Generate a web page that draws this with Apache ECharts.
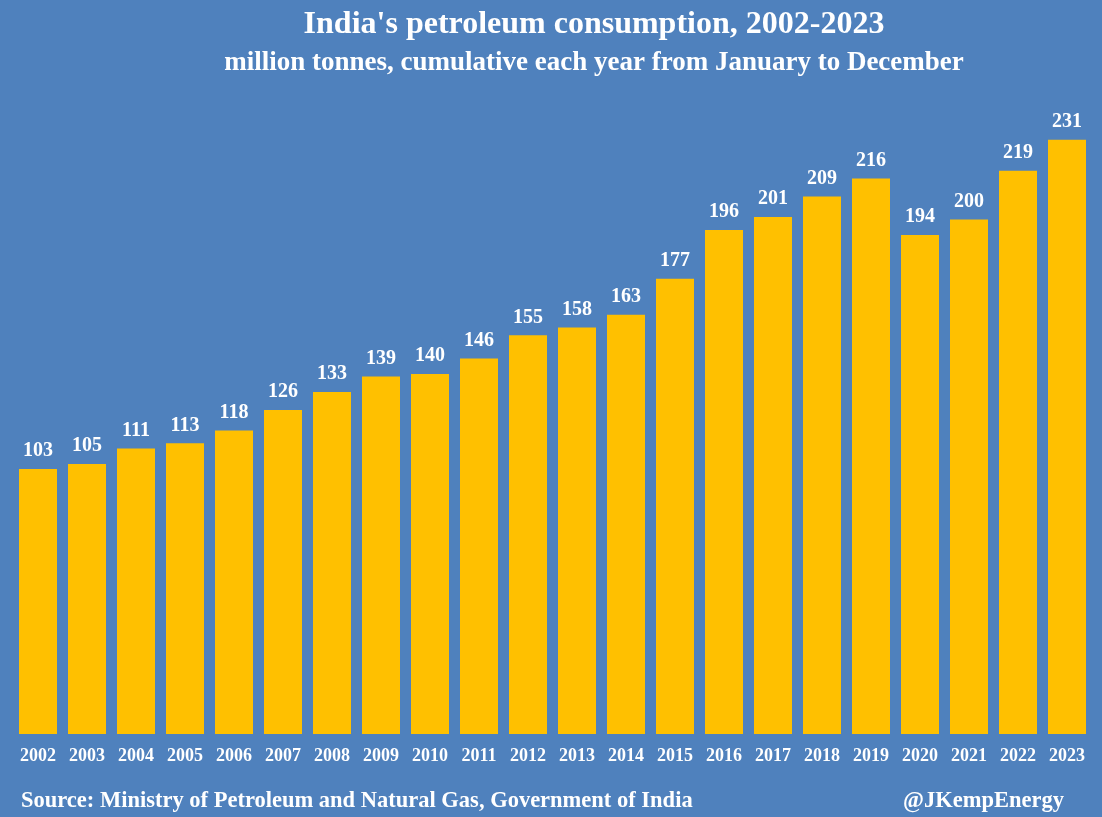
<!DOCTYPE html>
<html><head><meta charset="utf-8">
<script src="https://cdn.jsdelivr.net/npm/echarts@6/dist/echarts.min.js"></script>
<style>html,body{margin:0;padding:0;background:#4F81BD;}#c{width:1102px;height:817px;}</style>
</head><body><div id="c"></div>
<script>
const years = ['2002','2003','2004','2005','2006','2007','2008','2009','2010','2011','2012','2013','2014','2015','2016','2017','2018','2019','2020','2021','2022','2023'];
const consumption = [103,105,111,113,118,126,133,139,140,146,155,158,163,177,196,201,209,216,194,200,219,231];
const titleText = "India's petroleum consumption, 2002-2023";
const subtitleText = 'million tonnes, cumulative each year from January to December';
const sourceText = 'Source: Ministry of Petroleum and Natural Gas, Government of India';
const handleText = '@JKempEnergy';

const chart = echarts.init(document.getElementById('c'), null, {renderer:'canvas'});
const serif = '"Liberation Serif", "DejaVu Serif", serif';
chart.setOption({
  backgroundColor: '#4F81BD',
  animation: false,
  title: [
    {text: titleText, left: 589, top: 4, textAlign: 'center',
     textStyle: {color: '#fff', fontFamily: serif, fontWeight: 'bold', fontSize: 32}},
    {text: subtitleText, left: 589, top: 45, textAlign: 'center',
     textStyle: {color: '#fff', fontFamily: serif, fontWeight: 'bold', fontSize: 27}},
    {text: sourceText, left: 16, top: 785,
     textStyle: {color: '#fff', fontFamily: serif, fontWeight: 'bold', fontSize: 22.5}},
    {text: handleText, right: 33, top: 785,
     textStyle: {color: '#fff', fontFamily: serif, fontWeight: 'bold', fontSize: 22.5}}
  ],
  grid: {left: 13.5, right: 10.5, top: 91, bottom: 83, containLabel: false},
  xAxis: {
    type: 'category', data: years,
    axisLine: {show: false}, axisTick: {show: false},
    axisLabel: {color: '#fff', fontFamily: serif, fontWeight: 'bold', fontSize: 18, margin: 13, interval: 0}
  },
  yAxis: {
    type: 'value', min: 0, max: 250,
    show: false, splitLine: {show: false}
  },
  series: [{
    type: 'bar', data: consumption, barWidth: 38,
    itemStyle: {color: '#FFC000'},
    label: {show: true, position: 'top', distance: 8, color: '#fff',
      fontFamily: serif, fontWeight: 'bold', fontSize: 20}
  }]
});
</script></body></html>
